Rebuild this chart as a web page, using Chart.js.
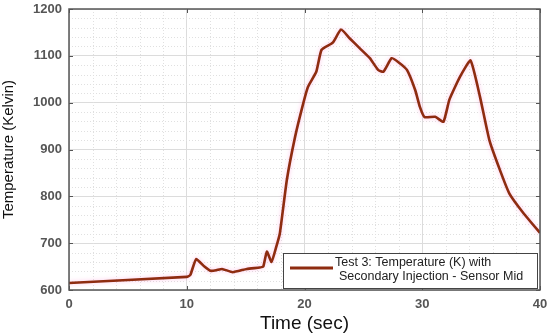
<!DOCTYPE html>
<html>
<head>
<meta charset="utf-8">
<script src="https://cdn.jsdelivr.net/npm/chart.js@4.4.1/dist/chart.umd.min.js"></script>
<style>
html,body{margin:0;padding:0;background:#fff;}
#wrap{width:550px;height:335px;position:relative;}
</style>
</head>
<body>
<div id="wrap"><canvas id="c" width="550" height="335"></canvas></div>
<script>
const seriesLabel = ["Test 3: Temperature (K) with", "Secondary Injection - Sensor Mid"];
const timeSec = [0,10,10.3,10.8,11.5,12.0,12.5,13.0,13.9,15.1,16.2,16.5,16.8,17.2,17.6,17.9,18.5,19.2,19.9,20.3,21.0,21.45,22.4,23.1,23.85,24.7,25.55,26.25,26.7,27.4,27.95,28.7,29.4,29.8,30.2,31.1,31.8,32.3,33.2,34.1,34.9,35.7,36.6,37.4,38.6,40];
const tempK   = [615,628,632,666,650,641,642,645,638,645,648,650,682,660,692,720,835,927,999,1034,1066,1113,1128,1156,1137,1116,1095,1070,1066,1095,1087,1070,1027,991,969,970,959,1006,1055,1090,1013,920,856,806,764,722];
const xTicks = [0,10,20,30,40];
const yTicks = [600,700,800,900,1000,1100,1200];
const xMinorStep = 2;
const yMinorStep = 20;

const framePlugin = {
  id: 'frame',
  beforeDatasetsDraw(chart) {
    const {ctx, chartArea: a, scales: {x, y}} = chart;
    ctx.save();
    ctx.strokeStyle = '#e0e0e0';
    ctx.lineWidth = 1;
    ctx.setLineDash([1, 2]);
    for (let v = x.min; v <= x.max; v += xMinorStep) {
      if (xTicks.includes(v)) continue;
      const px = Math.round(x.getPixelForValue(v)) + 0.5;
      ctx.beginPath(); ctx.moveTo(px, a.top); ctx.lineTo(px, a.bottom); ctx.stroke();
    }
    for (let v = y.min; v <= y.max; v += yMinorStep) {
      if (yTicks.includes(v)) continue;
      const py = Math.round(y.getPixelForValue(v)) + 0.5;
      ctx.beginPath(); ctx.moveTo(a.left, py); ctx.lineTo(a.right, py); ctx.stroke();
    }
    ctx.restore();
  },
  beforeDatasetDraw(chart) {
    const ctx = chart.ctx;
    ctx.save();
    ctx.shadowColor = 'rgba(255,150,215,0.55)';
    ctx.shadowBlur = 4;
  },
  afterDatasetDraw(chart) {
    chart.ctx.restore();
  },
  afterDatasetsDraw(chart) {
    const {ctx, chartArea: a, scales: {x, y}} = chart;
    ctx.save();
    ctx.strokeStyle = '#555';
    ctx.lineWidth = 1.5;
    ctx.strokeRect(a.left, a.top, a.right - a.left, a.bottom - a.top);
    ctx.lineWidth = 1;
    const tl = 4;
    xTicks.forEach(v => {
      const px = Math.round(x.getPixelForValue(v)) + 0.5;
      ctx.beginPath(); ctx.moveTo(px, a.top); ctx.lineTo(px, a.top + tl); ctx.stroke();
      ctx.beginPath(); ctx.moveTo(px, a.bottom); ctx.lineTo(px, a.bottom - tl); ctx.stroke();
    });
    yTicks.forEach(v => {
      const py = Math.round(y.getPixelForValue(v)) + 0.5;
      ctx.beginPath(); ctx.moveTo(a.left, py); ctx.lineTo(a.left + tl, py); ctx.stroke();
      ctx.beginPath(); ctx.moveTo(a.right, py); ctx.lineTo(a.right - tl, py); ctx.stroke();
    });
    // legend
    const ds = chart.data.datasets[0];
    const bx = a.left + 214, by = a.bottom - 37, bw = a.right - 3 - bx, bh = 35;
    ctx.fillStyle = '#fff';
    ctx.fillRect(bx, by, bw, bh);
    ctx.strokeStyle = '#444';
    ctx.lineWidth = 1;
    ctx.strokeRect(bx + 0.5, by + 0.5, bw, bh);
    ctx.strokeStyle = ds.borderColor;
    ctx.lineWidth = 3;
    ctx.beginPath(); ctx.moveTo(bx + 7, by + 15); ctx.lineTo(bx + 50, by + 15); ctx.stroke();
    ctx.fillStyle = '#222';
    ctx.font = '12.5px "Liberation Sans", Arial, sans-serif';
    ctx.textBaseline = 'middle';
    ctx.textAlign = 'left';
    ctx.fillText(seriesLabel[0], bx + 52, by + 10);
    ctx.fillText(seriesLabel[1], bx + 56, by + 24);
    ctx.restore();
  }
};

new Chart(document.getElementById('c'), {
  type: 'line',
  data: {
    datasets: [{
      label: seriesLabel.join(' '),
      data: timeSec.map((t, i) => ({x: t, y: tempK[i]})),
      borderColor: '#8e2c10',
      borderWidth: 2.6,
      pointRadius: 0,
      fill: false,
      tension: 0.15
    }]
  },
  options: {
    responsive: false,
    animation: false,
    layout: {padding: {top: 9, right: 10, left: 0, bottom: 0}},
    plugins: {legend: {display: false}, tooltip: {enabled: false}},
    scales: {
      x: {
        type: 'linear', min: 0, max: 40,
        afterFit(s) { s.height = 45; s.paddingLeft = 0; s.paddingRight = 0; },
        afterBuildTicks(s) { s.ticks = xTicks.map(v => ({value: v})); },
        ticks: {color: '#555', font: {family: '"Liberation Sans", Arial', size: 13, weight: 'bold'}, padding: 7, maxRotation: 0, callback: v => String(v)},
        grid: {color: '#dcdcdc', drawTicks: false, lineWidth: 1},
        border: {display: false},
        title: {display: true, text: 'Time (sec)', color: '#111', font: {family: '"Liberation Sans", Arial', size: 19}, padding: {top: 1, bottom: 0}}
      },
      y: {
        type: 'linear', min: 600, max: 1200,
        afterFit(s) { s.width = 69; s.paddingTop = 0; s.paddingBottom = 0; },
        afterBuildTicks(s) { s.ticks = yTicks.map(v => ({value: v})); },
        ticks: {color: '#555', font: {family: '"Liberation Sans", Arial', size: 13, weight: 'bold'}, padding: 7, callback: v => String(v)},
        grid: {color: '#dcdcdc', drawTicks: false, lineWidth: 1},
        border: {display: false},
        title: {display: true, text: 'Temperature (Kelvin)', color: '#111', font: {family: '"Liberation Sans", Arial', size: 15}, padding: {top: 0, bottom: 6}}
      }
    }
  },
  plugins: [framePlugin]
});
</script>
</body>
</html>
